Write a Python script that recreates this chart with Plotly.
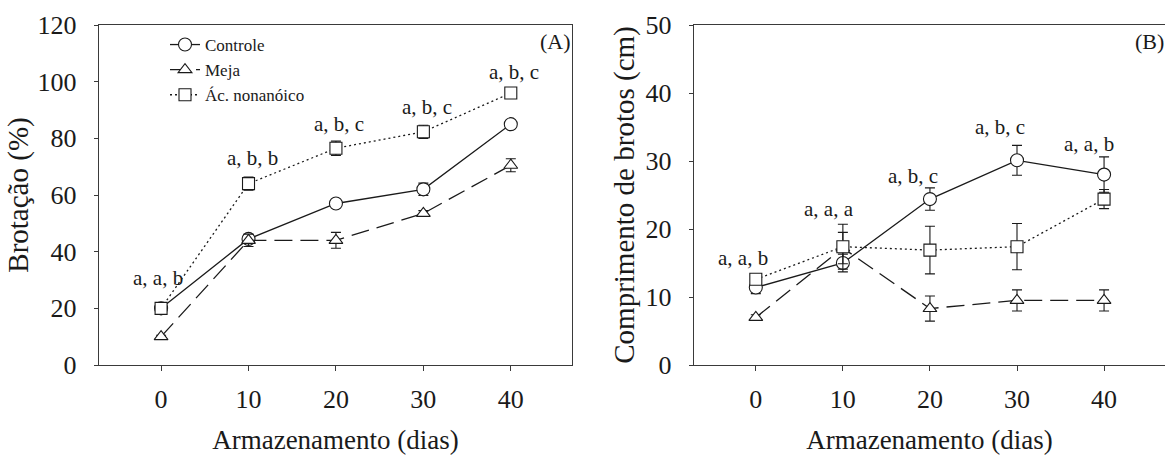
import plotly.graph_objects as go

# ---------------- data ----------------
days = [0, 10, 20, 30, 40]
series_names = ["Controle", "Meja", "Ác. nonanóico"]

# Panel A: Brotação (%)
brot_controle = [20, 44.5, 57, 62, 85]
brot_meja = [10, 44, 44, 53.5, 70.5]
brot_acido = [20, 64, 76.5, 82.3, 96]
brot_controle_err = [0.5, 1.5, 1.0, 2.2, 1.0]
brot_meja_err = [0.5, 2.2, 2.8, 1.0, 2.3]
brot_acido_err = [1.0, 2.3, 2.5, 2.3, 1.0]
brot_letters = ["a, a, b", "a, b, b", "a, b, c", "a, b, c", "a, b, c"]
brot_letters_x = [-0.4, 10.4, 20.3, 30.4, 40.4]
brot_letters_y = [30.7, 73, 85, 91.2, 103.3]

# Panel B: Comprimento de brotos (cm)
comp_controle = [11.4, 15.0, 24.4, 30.1, 28.0]
comp_meja = [7.0, 17.2, 8.3, 9.5, 9.5]
comp_acido = [12.6, 17.4, 16.9, 17.4, 24.4]
comp_controle_err = [0.9, 1.3, 1.65, 2.2, 2.6]
comp_meja_err = [0.4, 2.3, 1.85, 1.55, 1.55]
comp_acido_err = [0.5, 3.3, 3.5, 3.4, 1.4]
comp_letters = ["a, a, b", "a, a, a", "a, b, c", "a, b, c", "a, a, b"]
comp_letters_x = [-1.5, 8.4, 18.1, 28.0, 38.3]
comp_letters_y = [15.8, 22.9, 27.8, 35.0, 32.5]

panel_labels = ["(A)", "(B)"]
x_title = "Armazenamento (dias)"
y_titles = ["Brotação (%)", "Comprimento de brotos (cm)"]

# ---------------- style ----------------
FONT = "Liberation Serif"
INK = "#1a1a1a"
AXC = "#3a3a3a"
styles = [
    dict(dash="solid", symbol="circle", size=13),
    dict(dash="18px,8px", symbol="triangle-up", size=12),
    dict(dash="2px,3px", symbol="square", size=12),
]

fig = go.Figure()

panelA = [(brot_controle, brot_controle_err), (brot_meja, brot_meja_err), (brot_acido, brot_acido_err)]
panelB = [(comp_controle, comp_controle_err), (comp_meja, comp_meja_err), (comp_acido, comp_acido_err)]

for pi, (panel, xa, ya) in enumerate([(panelA, "x", "y"), (panelB, "x2", "y2")]):
    for si, (vals, errs) in enumerate(panel):
        st = styles[si]
        fig.add_trace(go.Scatter(
            x=days, y=vals, xaxis=xa, yaxis=ya,
            name=series_names[si], legendgroup=series_names[si],
            showlegend=(pi == 0),
            mode="lines+markers",
            line=dict(color=INK, width=1.3, dash=st["dash"]),
            marker=dict(symbol=st["symbol"], size=st["size"], color="white",
                        line=dict(color=INK, width=1.1)),
            error_y=dict(type="data", array=errs, visible=True, color=INK,
                         thickness=1.1, width=5),
        ))

annotations = []
for lx, ly, txt in zip(brot_letters_x, brot_letters_y, brot_letters):
    annotations.append(dict(x=lx, y=ly, xref="x", yref="y", text=txt, showarrow=False,
                            font=dict(family=FONT, size=21, color=INK)))
for lx, ly, txt in zip(comp_letters_x, comp_letters_y, comp_letters):
    annotations.append(dict(x=lx, y=ly, xref="x2", yref="y2", text=txt, showarrow=False,
                            font=dict(family=FONT, size=21, color=INK)))
annotations.append(dict(x=573 / 1166, y=1 - 42 / 456, xref="paper", yref="paper",
                        xanchor="right", yanchor="middle", text=panel_labels[0], showarrow=False,
                        font=dict(family=FONT, size=22, color=INK)))
annotations.append(dict(x=1166 / 1166, y=1 - 42 / 456, xref="paper", yref="paper",
                        xanchor="right", yanchor="middle", text=panel_labels[1], showarrow=False,
                        font=dict(family=FONT, size=22, color=INK)))

ydom = [1 - 365 / 456, 1 - 25 / 456]
common_x = dict(range=[-7.1, 47], tickvals=days, ticks="outside", ticklen=5, tickwidth=1.2,
                tickcolor=AXC, showline=True, linecolor=AXC, linewidth=1.4, showgrid=False,
                zeroline=False, automargin=False,
                tickfont=dict(family=FONT, size=26, color=INK),
                ticklabelstandoff=6,
                title=dict(text=x_title, font=dict(family=FONT, size=27, color=INK), standoff=16))
common_y = dict(ticks="outside", ticklen=4, tickwidth=1.2, tickcolor=AXC, showline=True,
                linecolor=AXC, linewidth=1.4, showgrid=False, zeroline=False, automargin=False,
                tickfont=dict(family=FONT, size=26, color=INK), ticklabelstandoff=12)

fig.update_layout(
    template="none",
    width=1166, height=456, autosize=False,
    margin=dict(l=0, r=0, t=0, b=0, pad=0),
    paper_bgcolor="white", plot_bgcolor="white",
    font=dict(family=FONT, color=INK),
    xaxis=dict(domain=[99 / 1166, 572 / 1166], anchor="y", mirror=True, **common_x),
    yaxis=dict(domain=ydom, anchor="x", range=[0, 120], dtick=20, mirror=True,
               title=dict(text=y_titles[0], font=dict(family=FONT, size=29, color=INK), standoff=0),
               **common_y),
    xaxis2=dict(domain=[694 / 1166, 1165 / 1166], anchor="y2", mirror=True, **common_x),
    yaxis2=dict(domain=ydom, anchor="x2", range=[0, 50], dtick=10, mirror=False,
                title=dict(text=y_titles[1], font=dict(family=FONT, size=29, color=INK), standoff=2),
                **common_y),
    showlegend=True,
    legend=dict(x=165 / 1166, y=1 - 27 / 456, xanchor="left", yanchor="top",
                bgcolor="rgba(0,0,0,0)", borderwidth=0,
                font=dict(family=FONT, size=17, color=INK), tracegroupgap=0,
                itemwidth=30),
    annotations=annotations,
)

fig.write_html(
    "out.html",
    config={"displayModeBar": False},
    post_script="document.body.style.margin='0';document.body.style.overflow='hidden';",
)
